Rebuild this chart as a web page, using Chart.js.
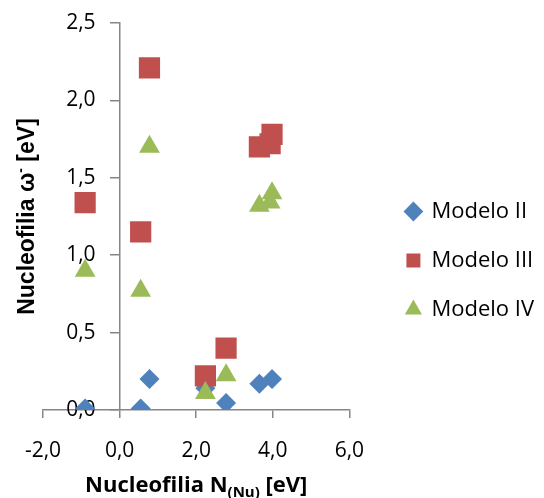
<!DOCTYPE html>
<html>
<head>
<meta charset="utf-8">
<script src="https://cdn.jsdelivr.net/npm/chart.js@4.4.1/dist/chart.umd.min.js"></script>
<style>
    html, body { margin: 0; padding: 0; background: #ffffff; }
    #wrap { width: 544px; height: 498px; position: relative; }
</style>
</head>
<body>
<div id="wrap"><canvas id="scatterChart"></canvas></div>
<script>
// Series values
const seriesNames = ['Modelo II', 'Modelo III', 'Modelo IV'];

const modelo2X = [-0.9, 0.55, 0.78, 2.24, 2.78, 3.65, 3.98];
const modelo2Y = [0.01, 0.01, 0.20, 0.14, 0.045, 0.17, 0.20];

const modelo3X = [-0.9, 0.55, 0.78, 2.24, 2.78, 3.65, 3.93, 3.98];
const modelo3Y = [1.34, 1.15, 2.21, 0.22, 0.40, 1.70, 1.72, 1.78];

const modelo4X = [-0.9, 0.55, 0.78, 2.24, 2.78, 3.65, 3.93, 3.98];
const modelo4Y = [0.90, 0.77, 1.70, 0.11, 0.225, 1.32, 1.34, 1.40];

// Axis ranges and titles
const xTicks = [-2, 0, 2, 4, 6];
const yTicks = [0, 0.5, 1, 1.5, 2, 2.5];
const xTitleRuns = ['Nucleofilia N', '(Nu)', ' [eV]'];
const yTitleRuns = ['Nucleofilia \u03C9', '-', ' [eV]'];

const AXIS_GRAY = '#868686';

function fmtComma(v) {
    return Number(v).toFixed(1).replace('.', ',');
}

function toPoints(xs, ys) {
    return xs.map((x, i) => ({ x: x, y: ys[i] }));
}

// draws a row of text pieces centred on cx, each piece with its own font / baseline shift
function drawRuns(ctx, runs, cx, baseline) {
    let total = 0;
    runs.forEach(r => { ctx.font = r.font; total += ctx.measureText(r.text).width; });
    let x = cx - total / 2;
    runs.forEach(r => {
        ctx.font = r.font;
        ctx.fillText(r.text, x, baseline + r.shift);
        x += ctx.measureText(r.text).width;
    });
}

// y axis sits at x = 0, Chart.js ignores ticks.padding there, so move the labels off the axis
const yLabelGap = {
    id: 'yLabelGap',
    beforeDraw(chart) {
        const x0 = chart.scales.x.getPixelForValue(0);
        chart.scales.y.getLabelItems().forEach(item => {
            item.options.translation[0] = x0 - 24;
            item.options.textAlign = 'right';
        });
    }
};

const axisTitles = {
    id: 'axisTitles',
    afterDraw(chart) {
        const { ctx, chartArea } = chart;
        ctx.save();
        ctx.fillStyle = '#000000';
        ctx.textAlign = 'left';
        ctx.textBaseline = 'alphabetic';

        // x title with subscript
        const xFont = 'bold 22px "Open Sans"';
        const xSub = 'bold 15px "Open Sans"';
        drawRuns(ctx, [
            { text: xTitleRuns[0], font: xFont, shift: 0 },
            { text: xTitleRuns[1], font: xSub, shift: 5 },
            { text: xTitleRuns[2], font: xFont, shift: 0 }
        ], (chartArea.left + chartArea.right) / 2, 492);

        // y title, rotated, with superscript
        const yFont = 'bold 23px "Liberation Sans"';
        const ySup = 'bold 14px "Liberation Sans"';
        ctx.translate(34, (chartArea.top + chartArea.bottom) / 2);
        ctx.rotate(-Math.PI / 2);
        drawRuns(ctx, [
            { text: yTitleRuns[0], font: yFont, shift: 0 },
            { text: yTitleRuns[1], font: ySup, shift: -9 },
            { text: yTitleRuns[2], font: yFont, shift: 0 }
        ], 0, 0);
        ctx.restore();
    }
};

Chart.defaults.font.family = '"Open Sans", sans-serif';
Chart.defaults.color = '#000000';

const ctx = document.getElementById('scatterChart').getContext('2d');
new Chart(ctx, {
    type: 'scatter',
    data: {
        datasets: [
            {
                label: seriesNames[0],
                data: toPoints(modelo2X, modelo2Y),
                pointStyle: 'rectRot',
                pointRadius: 10,
                backgroundColor: '#4F81BD',
                borderWidth: 0,
                yAxisID: 'y',
                order: 3
            },
            {
                label: seriesNames[1],
                data: toPoints(modelo3X, modelo3Y),
                pointStyle: 'rect',
                pointRadius: 15,
                backgroundColor: '#C0504D',
                borderWidth: 0,
                yAxisID: 'y',
                order: 2
            },
            {
                label: seriesNames[2],
                data: toPoints(modelo4X, modelo4Y),
                pointStyle: 'triangle',
                pointRadius: 12,
                backgroundColor: '#9BBB59',
                borderWidth: 0,
                yAxisID: 'y',
                order: 1
            }
        ]
    },
    options: {
        responsive: true,
        maintainAspectRatio: false,
        animation: false,
        layout: { padding: { left: 43, top: 23, right: 0, bottom: 0 } },
        scales: {
            x: {
                type: 'linear',
                position: 'bottom',
                min: xTicks[0],
                max: xTicks[xTicks.length - 1],
                afterBuildTicks: s => { s.ticks = xTicks.map(v => ({ value: v })); },
                ticks: { padding: 20, font: { size: 21 }, color: '#000', callback: v => fmtComma(v) },
                grid: { drawOnChartArea: false, tickLength: 8, color: AXIS_GRAY, lineWidth: 1.5 },
                border: { color: AXIS_GRAY, width: 1.5 },
                afterFit: s => { s.height = 88; }
            },
            y: {
                type: 'linear',
                position: { x: 0 },
                z: 1,
                min: yTicks[0],
                max: yTicks[yTicks.length - 1],
                afterBuildTicks: s => { s.ticks = yTicks.map(v => ({ value: v })); },
                ticks: { font: { size: 21 }, color: '#000', callback: v => fmtComma(v) },
                grid: { drawOnChartArea: false, tickLength: 9, color: AXIS_GRAY, lineWidth: 1.5 },
                border: { color: AXIS_GRAY, width: 1.5 }
            },
            // empty strip between the plot and the legend
            yGap: {
                type: 'linear',
                position: 'right',
                display: true,
                ticks: { display: false },
                grid: { display: false },
                border: { display: false },
                afterFit: s => { s.width = 30; }
            }
        },
        plugins: {
            legend: {
                position: 'right',
                maxWidth: 200,
                labels: {
                    usePointStyle: true,
                    boxWidth: 14,
                    boxHeight: 14,
                    padding: 27,
                    color: '#000',
                    font: { size: 22 },
                    sort: (a, b) => a.datasetIndex - b.datasetIndex
                }
            },
            tooltip: { enabled: false }
        }
    },
    plugins: [yLabelGap, axisTitles]
});
</script>
</body>
</html>
